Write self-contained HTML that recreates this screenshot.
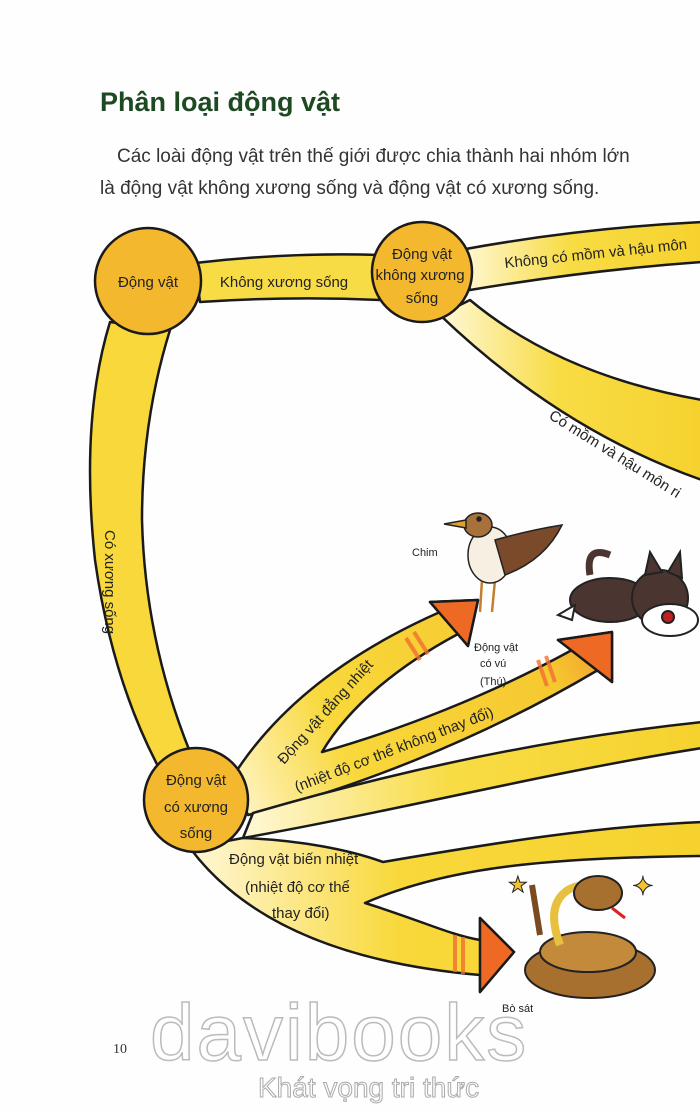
<!DOCTYPE html>
<html><head><meta charset="utf-8"><style>
body{margin:0;background:#fff;}
svg{display:block;font-family:"Liberation Sans",sans-serif;}
.t{font-size:15px;fill:#222;}
</style></head><body>
<svg width="700" height="1114" viewBox="0 0 700 1114">
<defs>
<linearGradient id="g1" x1="0" x2="1"><stop offset="0" stop-color="#fff8d8"/><stop offset="0.45" stop-color="#f8dc45"/><stop offset="1" stop-color="#f6d22e"/></linearGradient>
<linearGradient id="gw" gradientUnits="userSpaceOnUse" x1="240" y1="800" x2="600" y2="640"><stop offset="0" stop-color="#fff3c0"/><stop offset="0.3" stop-color="#f8d83a"/><stop offset="0.85" stop-color="#f6c830"/><stop offset="1" stop-color="#f3a030"/></linearGradient>
<linearGradient id="gs" gradientUnits="userSpaceOnUse" x1="200" y1="850" x2="700" y2="850"><stop offset="0" stop-color="#fff6d0"/><stop offset="0.4" stop-color="#f8d83a"/><stop offset="1" stop-color="#f6d22e"/></linearGradient>
</defs>
<rect width="700" height="1114" fill="#fefefe"/>
<text x="100" y="111" font-size="27" font-weight="bold" fill="#1d4a22">Phân loại động vật</text>
<text x="117" y="162" font-size="19" fill="#333">Các loài động vật trên thế giới được chia thành hai nhóm lớn</text>
<text x="100" y="194" font-size="19" fill="#333">là động vật không xương sống và động vật có xương sống.</text>
<g stroke="#1a1a1a" stroke-width="2.5" stroke-linejoin="round">
<path d="M195 263 Q290 252 380 255 L380 300 Q290 296 200 302 Z" fill="#f8dc45"/>
<path d="M460 250 Q580 228 702 222 L702 262 Q590 270 470 290 Z" fill="url(#g1)"/>
<path d="M470 300 Q560 375 702 400 L702 480 Q560 430 440 315 Z" fill="url(#g1)"/>
<path d="M110 322 Q80 420 95 560 Q112 680 160 770 L190 752 Q145 640 142 520 Q142 420 170 330 Z" fill="#f8d83a"/>
<path d="M232 778 C262 730 320 665 440 612 L430 602 L478 600 L468 646 L458 634 C400 665 350 705 322 752 C400 730 490 695 572 650 L558 640 L612 632 L612 682 L598 670 C480 740 350 790 248 815 Z" fill="url(#gw)"/>
<path d="M253 813 C400 770 550 738 702 722 L702 748 C550 772 400 810 243 838 Z" fill="url(#g1)"/>
<path d="M243 838 C300 840 350 850 383 862 C500 842 600 826 702 822 L702 856 C550 858 450 866 365 903 C420 920 450 935 480 940 L480 918 L514 952 L480 992 L480 975 C330 962 240 915 190 848 Z" fill="url(#gs)"/>
</g>
<g stroke="#1a1a1a" stroke-width="2.5" stroke-linejoin="round" fill="#ee6a24">
<path d="M430 602 L478 600 L468 646 Z"/>
<path d="M558 640 L612 632 L612 682 Z"/>
<path d="M480 918 L514 952 L480 992 Z"/>
</g>
<g stroke="#f07030" stroke-width="4" opacity="0.8">
<line x1="406" y1="638" x2="420" y2="660"/><line x1="414" y1="632" x2="428" y2="654"/>
<line x1="538" y1="660" x2="547" y2="686"/><line x1="546" y1="656" x2="555" y2="682"/>
<line x1="455" y1="935" x2="455" y2="972"/><line x1="463" y1="937" x2="463" y2="974"/>
</g>
<g stroke="#1a1a1a" stroke-width="2.5">
<circle cx="148" cy="281" r="53" fill="#f3b82e"/>
<circle cx="422" cy="272" r="50" fill="#f3b82e"/>
<circle cx="196" cy="800" r="52" fill="#f3b82e"/>
</g>
<text class="t" x="148" y="287" text-anchor="middle">Động vật</text>
<text class="t" x="284" y="287" text-anchor="middle">Không xương sống</text>
<text class="t" x="422" y="259" text-anchor="middle">Động vật</text>
<text class="t" x="420" y="280" text-anchor="middle">không xương</text>
<text class="t" x="422" y="303" text-anchor="middle">sống</text>
<text class="t" x="505" y="268" transform="rotate(-6 505 268)">Không có mồm và hậu môn</text>
<text class="t" x="548" y="418" transform="rotate(32 548 418)">Có mồm và hậu môn ri</text>
<text class="t" x="105" y="530" transform="rotate(90 105 530)">Có xương sống</text>
<text class="t" x="196" y="785" text-anchor="middle">Động vật</text>
<text class="t" x="196" y="812" text-anchor="middle">có xương</text>
<text class="t" x="196" y="838" text-anchor="middle">sống</text>
<text class="t" x="284" y="765" transform="rotate(-48 284 765)">Động vật đẳng nhiệt</text>
<text class="t" x="297" y="792" transform="rotate(-21 297 792)">(nhiệt độ cơ thể không thay đổi)</text>
<text class="t" x="229" y="864">Động vật biến nhiệt</text>
<text class="t" x="245" y="892">(nhiệt độ cơ thể</text>
<text class="t" x="272" y="918">thay đổi)</text>
<text x="412" y="556" font-size="11" fill="#222">Chim</text>
<text x="474" y="651" font-size="11" fill="#222">Động vật</text>
<text x="480" y="667" font-size="11" fill="#222">có vú</text>
<text x="480" y="685" font-size="11" fill="#222">(Thú)</text>
<text x="502" y="1012" font-size="11" fill="#222">Bò sát</text>
<g stroke="#222" stroke-width="1.5">
<path d="M480 612 L482 580 M492 612 L495 580" fill="none" stroke="#c08030" stroke-width="2.5"/>
<ellipse cx="490" cy="555" rx="22" ry="28" fill="#f6efe2"/>
<path d="M495 540 Q530 530 562 525 Q545 560 505 575 Z" fill="#7a4a2a"/>
<ellipse cx="478" cy="525" rx="14" ry="12" fill="#a8703a"/>
<path d="M466 520 L444 524 L466 528Z" fill="#e0a030"/>
<circle cx="479" cy="519" r="2" fill="#222"/>
</g>
<g stroke="#222" stroke-width="2">
<path d="M590 575 Q585 545 610 555" fill="none" stroke="#4a3530" stroke-width="7"/>
<ellipse cx="610" cy="600" rx="40" ry="22" fill="#4a3530"/>
<path d="M575 605 L558 615 L572 620Z" fill="#fff"/>
<circle cx="660" cy="598" r="28" fill="#4a3530"/>
<path d="M645 575 L650 552 L662 572Z M668 572 L680 552 L682 578Z" fill="#4a3530"/>
<ellipse cx="670" cy="620" rx="28" ry="16" fill="#fff"/>
<circle cx="668" cy="617" r="6" fill="#c02020"/>
</g>
<g stroke="#222" stroke-width="2">
<ellipse cx="590" cy="970" rx="65" ry="28" fill="#a8702e"/>
<ellipse cx="588" cy="952" rx="48" ry="20" fill="#c48a3c"/>
<path d="M560 945 Q545 905 568 890 Q585 880 600 895" fill="none" stroke="#e8c040" stroke-width="8"/>
<path d="M540 935 L532 885" stroke="#7a4a20" stroke-width="6"/>
<ellipse cx="598" cy="893" rx="24" ry="17" fill="#a8702e"/>
<path d="M612 908 L625 918" stroke="#d22" stroke-width="3"/>
</g>
<text x="508" y="892" font-size="22" fill="#f2c42a" stroke="#222" stroke-width="1">★</text>
<text x="632" y="895" font-size="26" fill="#f2c42a" stroke="#222" stroke-width="1">✦</text>
<text x="113" y="1053" font-family="Liberation Serif" font-size="14" fill="#333">10</text>
<text x="150" y="1060" font-size="80" fill="none" stroke="#bbb" stroke-width="1.5" letter-spacing="2">davibooks</text>
<text x="258" y="1097" font-size="28" fill="none" stroke="#aaa" stroke-width="1">Khát vọng tri thức</text>
</svg>
</body></html>
